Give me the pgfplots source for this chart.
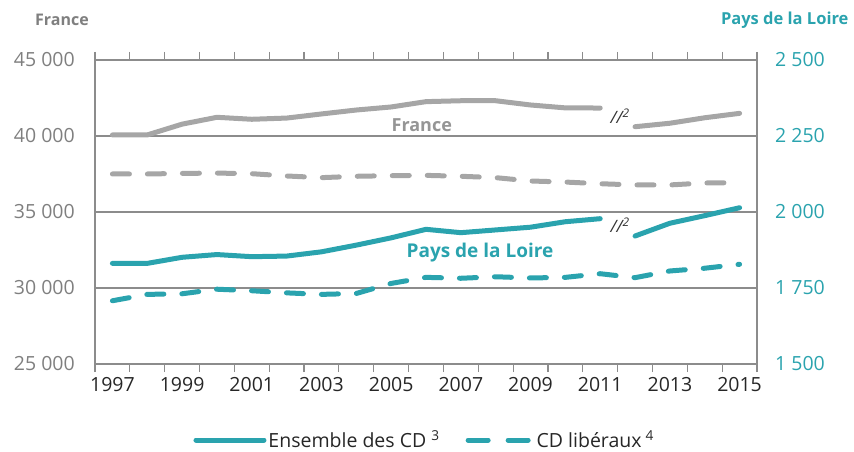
\documentclass[border=0pt]{standalone}
\usepackage{fontspec}
\setmainfont{Open Sans}
\usepackage{pgfplots}
\pgfplotsset{compat=1.18}
\definecolor{lgray}{HTML}{A6A6A6}
\definecolor{agray}{HTML}{8C8C8C}
\definecolor{tgray}{HTML}{7F7F7F}
\definecolor{cdteal}{HTML}{2AA3AE}
\begin{document}
\begin{tikzpicture}[font=\fontsize{19.5}{22}\selectfont]
\path[use as bounding box] (-95pt,-88pt) rectangle (759pt,364pt);
\pgfplotsset{every axis/.append style={scale only axis, width=662pt, height=304pt,
  xmin=1996.5, xmax=2015.5, at={(0pt,0pt)}, anchor=south west, scaled y ticks=false, scaled x ticks=false}}
\begin{axis}[
  ymin=25000, ymax=45000,
  ytick={25000,30000,35000,40000,45000},
  yticklabels={25 000,30 000,35 000,40 000,45 000},
  xtick={1997,1999,2001,2003,2005,2007,2009,2011,2013,2015},
  xticklabels={1997,1999,2001,2003,2005,2007,2009,2011,2013,2015},
  minor xtick={1996.5,1997.5,...,2015.5},
  major tick length=0pt, minor tick length=8pt, tick align=outside,
  tick style={agray, line width=1.2pt},
  ymajorgrids, grid style={agray, line width=1.2pt},
  axis line style={agray, line width=1.2pt},
  yticklabel style={tgray, anchor=east, inner sep=0pt, xshift=-20pt},
  xticklabel style={black!85, anchor=north, inner sep=0pt, yshift=-13pt},
  legend style={at={(0.498,-0.25)}, anchor=center, draw=none, fill=none,
    legend columns=2, font=\fontsize{19.5}{22}\selectfont, text=black!85,
    /tikz/every even column/.append style={column sep=24pt}},
  legend cell align=left,
]
\addlegendimage{legend image code/.code={\draw[cdteal, line width=5pt, line cap=round] (0pt,0pt) -- (68pt,0pt);}}
\addlegendentry{Ensemble des CD\hspace{5pt}\textsuperscript{3}}
\addlegendimage{legend image code/.code={\draw[cdteal, line width=5pt, line cap=round, dash pattern=on 20pt off 20pt] (2pt,0pt) -- (66pt,0pt);}}
\addlegendentry{CD libéraux\hspace{4pt}\textsuperscript{4}}
\addplot[lgray, line width=5pt, line cap=round, line join=round, forget plot] coordinates {
(1997,40070)(1998,40070)(1999,40780)(2000,41230)(2001,41100)(2002,41180)(2003,41450)(2004,41710)(2005,41910)(2006,42260)(2007,42320)(2008,42320)(2009,42040)(2010,41850)(2011,41840)};
\addplot[lgray, line width=5pt, line cap=round, line join=round, forget plot] coordinates {
(2012,40610)(2013,40840)(2014,41200)(2015,41490)};
\addplot[lgray, line width=5pt, line cap=round, line join=round, dash pattern=on 17pt off 18pt, forget plot] coordinates {
(1997,37500)(1998,37500)(1999,37540)(2000,37560)(2001,37520)(2002,37370)(2003,37260)(2004,37350)(2005,37390)(2006,37410)(2007,37350)(2008,37260)(2009,37040)(2010,36970)(2011,36860)(2012,36780)(2013,36780)(2014,36910)(2015,36930)};
\node[text=black!80, font=\itshape\fontsize{17}{20}\selectfont] at (axis cs:2011.57,41316) {//\textsuperscript{2}};
\node[text=lgray!90!black, font=\bfseries\fontsize{18}{21}\selectfont] at (axis cs:2005.88,40724) {France};
\end{axis}
\begin{axis}[
  ymin=1500, ymax=2500,
  ytick={1500,1750,2000,2250,2500},
  yticklabels={1 500,1 750,2 000,2 250,2 500},
  xtick=\empty, yticklabel pos=right,
  major tick length=0pt,
  axis line style={draw=none},
  yticklabel style={cdteal, anchor=west, inner sep=0pt, xshift=18pt},
]
\addplot[cdteal, line width=5pt, line cap=round, line join=round] coordinates {
(1997,1831)(1998,1831)(1999,1851)(2000,1860)(2001,1853)(2002,1855)(2003,1869)(2004,1891)(2005,1915)(2006,1943)(2007,1932)(2008,1941)(2009,1950)(2010,1968)(2011,1978)};
\addplot[cdteal, line width=5pt, line cap=round, line join=round] coordinates {
(2012,1921)(2013,1963)(2014,1988)(2015,2014)};
\addplot[cdteal, line width=5pt, line cap=round, line join=round, dash pattern=on 17pt off 18pt] coordinates {
(1997,1708)(1998,1729)(1999,1731)(2000,1746)(2001,1741)(2002,1734)(2003,1729)(2004,1732)(2005,1765)(2006,1785)(2007,1782)(2008,1787)(2009,1783)(2010,1785)(2011,1797)(2012,1784)(2013,1806)(2014,1815)(2015,1828)};
\node[text=black!80, font=\itshape\fontsize{17}{20}\selectfont] at (axis cs:2011.57,1957) {//\textsuperscript{2}};
\node[text=cdteal, font=\bfseries\fontsize{19}{22}\selectfont] at (axis cs:2007.55,1865) {Pays de la Loire};
\end{axis}
\node[text=tgray, font=\bfseries\fontsize{16}{19}\selectfont] at (-33pt,344pt) {France};
\node[text=cdteal, font=\bfseries\fontsize{16.5}{19}\selectfont, anchor=east] at (757pt,344pt) {Pays de la Loire};
\end{tikzpicture}
\end{document}
